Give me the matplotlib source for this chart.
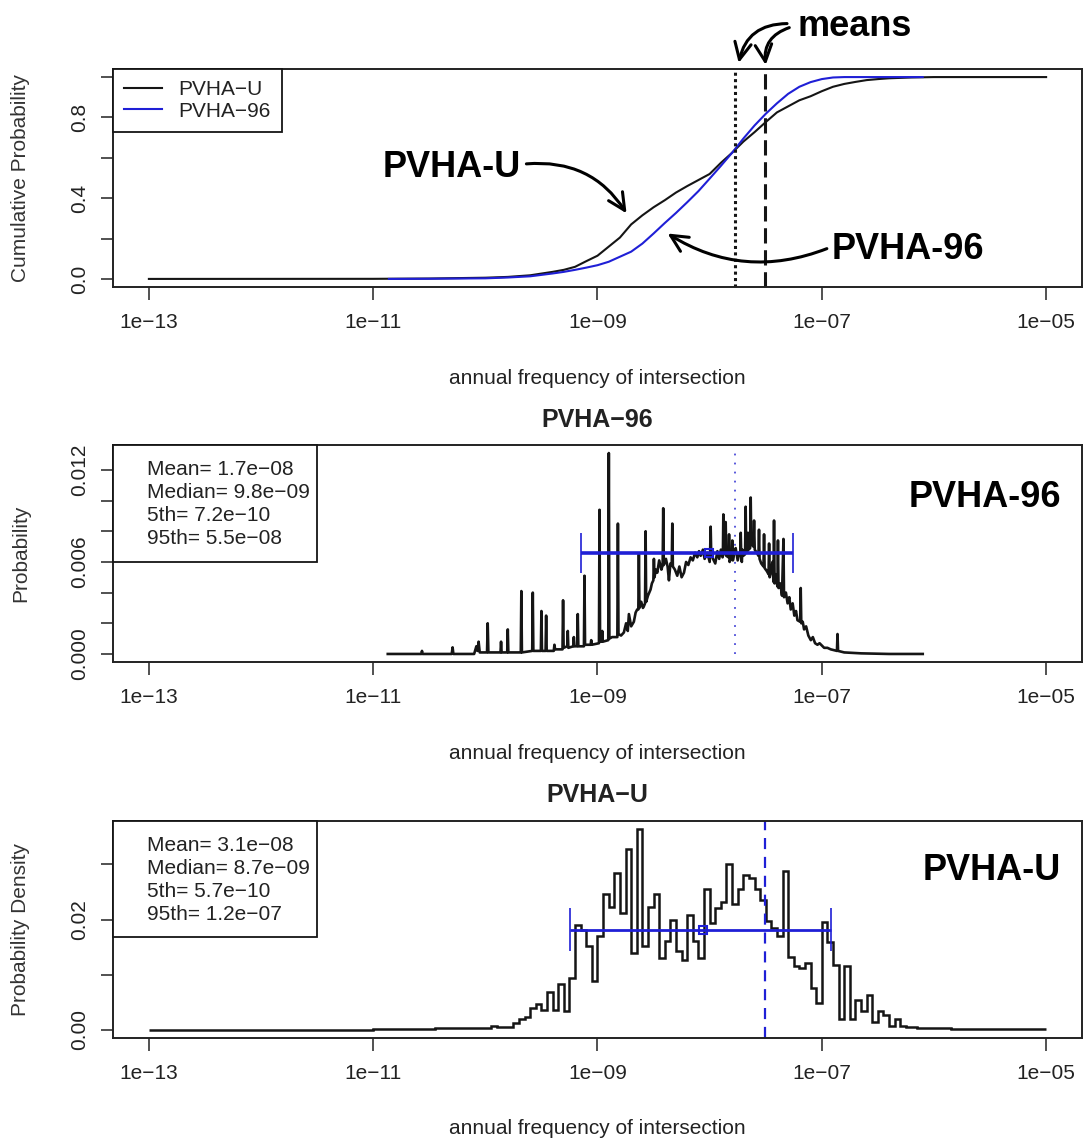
import numpy as np
import matplotlib.pyplot as plt
from matplotlib.patches import Rectangle

plt.rcParams['font.family'] = ['Liberation Sans', 'DejaVu Sans']

# ---- axis ticks -------------------------------------------------------
x_ticks = [1e-13, 1e-11, 1e-09, 1e-07, 1e-05]
x_tick_labels = ['1e\u221213', '1e\u221211', '1e\u221209', '1e\u221207', '1e\u221205']
x_label = 'annual frequency of intersection'

# ---- top panel: cumulative curves (log10 frequency, probability) -------
cdf_u_log = [-13.0, -11.0, -10.5, -10.0, -9.8, -9.6, -9.4, -9.3, -9.2, -9.1,
             -9.0, -8.9, -8.8, -8.7, -8.6, -8.5, -8.4, -8.3, -8.2, -8.1,
             -8.0, -7.9, -7.8, -7.7, -7.6, -7.5, -7.4, -7.3, -7.2, -7.1,
             -7.0, -6.9, -6.8, -6.7, -6.6, -6.5, -6.4, -6.2, -6.0, -5.0]
cdf_u = [0.0, 0.0005, 0.002, 0.006, 0.010, 0.018, 0.035, 0.045, 0.060, 0.088,
         0.115, 0.160, 0.205, 0.270, 0.315, 0.355, 0.390, 0.428, 0.460, 0.490,
         0.520, 0.575, 0.625, 0.680, 0.727, 0.777, 0.825, 0.855, 0.885, 0.905,
         0.930, 0.952, 0.966, 0.976, 0.985, 0.990, 0.994, 0.998, 1.0, 1.0]

cdf_96_log = [-10.86, -10.5, -10.0, -9.8, -9.6, -9.4, -9.3, -9.2, -9.1, -9.0,
              -8.9, -8.8, -8.7, -8.6, -8.5, -8.4, -8.3, -8.2, -8.1, -8.0,
              -7.9, -7.8, -7.7, -7.6, -7.5, -7.4, -7.3, -7.2, -7.1, -7.0,
              -6.9, -6.8, -6.1]
cdf_96 = [0.0, 0.0008, 0.003, 0.007, 0.013, 0.027, 0.035, 0.045, 0.056, 0.068,
          0.085, 0.110, 0.135, 0.175, 0.225, 0.277, 0.327, 0.380, 0.435, 0.497,
          0.560, 0.625, 0.695, 0.760, 0.818, 0.870, 0.917, 0.952, 0.975, 0.990,
          0.998, 1.0, 1.0]

# ---- middle panel: PVHA-96 probability (log10 frequency, probability) ---
pv96_log = [
    -10.87, -10.57, -10.565, -10.56, -10.30, -10.292, -10.285, -10.10, -10.08, -10.07,
    -10.06, -10.05, -9.985, -9.979, -9.973, -9.865, -9.86, -9.855, -9.805, -9.80,
    -9.795, -9.684, -9.679, -9.674, -9.582, -9.577, -9.572, -9.505, -9.50, -9.495,
    -9.463, -9.458, -9.453, -9.39, -9.384, -9.378, -9.312, -9.307, -9.302, -9.27,
    -9.265, -9.26, -9.216, -9.211, -9.206, -9.181, -9.176, -9.171, -9.121, -9.116,
    -9.111, -9.061, -9.056, -9.051, -8.987, -8.982, -8.977, -8.963, -8.958, -8.953,
    -8.904, -8.899, -8.894, -8.87, -8.823, -8.818, -8.813, -8.79, -8.765, -8.745,
    -8.73, -8.72, -8.70, -8.676, -8.66, -8.646, -8.636, -8.631, -8.626, -8.61,
    -8.595, -8.587, -8.576, -8.571, -8.566, -8.55, -8.527, -8.515, -8.502, -8.497,
    -8.492, -8.48, -8.467, -8.45, -8.43, -8.419, -8.414, -8.409, -8.39, -8.375,
    -8.363, -8.35, -8.338, -8.333, -8.328, -8.31, -8.289, -8.27, -8.25, -8.229,
    -8.21, -8.19, -8.17, -8.15, -8.13, -8.11, -8.095, -8.08, -8.06, -8.045,
    -8.02, -8.00, -7.996, -7.991, -7.986, -7.97, -7.95, -7.931, -7.915, -7.90,
    -7.885, -7.882, -7.878, -7.873, -7.862, -7.857, -7.852, -7.832, -7.827, -7.822,
    -7.803, -7.798, -7.793, -7.78, -7.768, -7.75, -7.735, -7.728, -7.723, -7.718,
    -7.713, -7.708, -7.70, -7.684, -7.679, -7.674, -7.663, -7.658, -7.653, -7.639,
    -7.634, -7.629, -7.61, -7.604, -7.598, -7.58, -7.565, -7.56, -7.555, -7.54,
    -7.52, -7.515, -7.51, -7.49, -7.475, -7.47, -7.465, -7.455, -7.44, -7.431,
    -7.426, -7.421, -7.41, -7.396, -7.391, -7.386, -7.37, -7.355, -7.342, -7.337,
    -7.32, -7.305, -7.29, -7.277, -7.26, -7.245, -7.23, -7.217, -7.193, -7.188,
    -7.183, -7.17, -7.158, -7.14, -7.12, -7.098, -7.08, -7.06, -7.039, -7.02,
    -6.979, -6.95, -6.92, -6.865, -6.86, -6.855, -6.80, -6.65, -6.40, -6.10]
pv96_prob = [
    0.0, 0.0, 0.0002, 0.0, 0.0, 0.00043, 0.0, 0.0, 0.0005, 0.0002,
    0.0008, 0.0001, 0.0001, 0.0020, 0.0001, 0.0001, 0.0008, 0.0001, 0.0001, 0.0016,
    0.0001, 0.0001, 0.0041, 0.0001, 0.0002, 0.0040, 0.0002, 0.0002, 0.0028, 0.0002,
    0.0002, 0.0025, 0.0002, 0.0002, 0.0006, 0.0003, 0.0003, 0.0035, 0.0004, 0.0005,
    0.0015, 0.0004, 0.0005, 0.0011, 0.0005, 0.0005, 0.0026, 0.0005, 0.0005, 0.0051,
    0.0006, 0.0006, 0.0009, 0.0006, 0.0007, 0.0094, 0.0008, 0.0008, 0.0015, 0.0008,
    0.0009, 0.0131, 0.0010, 0.0011, 0.0011, 0.0085, 0.0013, 0.0012, 0.0014, 0.0020,
    0.0015, 0.0026, 0.0018, 0.0021, 0.0027, 0.0029, 0.0029, 0.0065, 0.0030, 0.0034,
    0.0030, 0.0031, 0.0033, 0.0080, 0.0034, 0.0038, 0.0042, 0.0046, 0.0048, 0.0062,
    0.0050, 0.0055, 0.0053, 0.0061, 0.0055, 0.0058, 0.0095, 0.0058, 0.0062, 0.0057,
    0.0048, 0.0059, 0.0058, 0.0085, 0.0057, 0.0055, 0.0051, 0.0057, 0.0050, 0.0053,
    0.0060, 0.0058, 0.0063, 0.0061, 0.0066, 0.0063, 0.0067, 0.0064, 0.0068, 0.0062,
    0.0066, 0.0060, 0.0066, 0.0083, 0.0065, 0.0062, 0.0059, 0.0067, 0.0062, 0.0068,
    0.0063, 0.0064, 0.0091, 0.0066, 0.0065, 0.0086, 0.0064, 0.0063, 0.0078, 0.0060,
    0.0064, 0.0074, 0.0061, 0.0066, 0.0069, 0.0061, 0.0066, 0.0064, 0.0079, 0.0063,
    0.0060, 0.0068, 0.0064, 0.0065, 0.0096, 0.0066, 0.0067, 0.0079, 0.0068, 0.0069,
    0.0102, 0.0072, 0.0070, 0.0087, 0.0068, 0.0066, 0.0064, 0.0081, 0.0062, 0.0059,
    0.0057, 0.0078, 0.0056, 0.0054, 0.0052, 0.0072, 0.0050, 0.0053, 0.0060, 0.0047,
    0.0087, 0.0046, 0.0052, 0.0044, 0.0074, 0.0043, 0.0046, 0.0038, 0.0075, 0.0037,
    0.0040, 0.0033, 0.0037, 0.0029, 0.0033, 0.0025, 0.0028, 0.0022, 0.0021, 0.0043,
    0.0020, 0.0021, 0.0016, 0.0018, 0.0012, 0.0009, 0.0011, 0.0007, 0.0006, 0.0007,
    0.0004, 0.0004, 0.0003, 0.0002, 0.0013, 0.0002, 0.0001, 0.00004, 0.0, 0.0]

# ---- bottom panel: PVHA-U histogram, bins of 0.05 in log10 from 1e-13 to 1e-05
pvu_hist = [
    # -13.00 .. -11.05
    0.0, 0.0, 0.0, 0.0, 0.0, 0.0, 0.0, 0.0, 0.0, 0.0,
    0.0, 0.0, 0.0, 0.0, 0.0, 0.0, 0.0, 0.0, 0.0, 0.0,
    0.0, 0.0, 0.0, 0.0, 0.0, 0.0, 0.0, 0.0, 0.0, 0.0,
    0.0, 0.0, 0.0, 0.00005, 0.00005, 0.00005, 0.00005, 0.00005, 0.00005, 0.00005,
    # -11.00 .. -10.05
    0.0001, 0.0001, 0.0001, 0.0001, 0.0001, 0.0002, 0.0002, 0.0002, 0.0002, 0.0002,
    0.0002, 0.0003, 0.0003, 0.0003, 0.0003, 0.0004, 0.0003, 0.0004, 0.0004, 0.0003,
    # -10.00 .. -9.05
    0.0004, 0.0008, 0.0006, 0.0006, 0.0005, 0.0012, 0.0020, 0.0024, 0.0040, 0.0047,
    0.0037, 0.0069, 0.0037, 0.0083, 0.0034, 0.0095, 0.0191, 0.0182, 0.0152, 0.0088,
    # -9.00 .. -8.05
    0.0170, 0.0246, 0.0222, 0.0285, 0.0212, 0.0327, 0.0139, 0.0364, 0.0152, 0.0222,
    0.0246, 0.0130, 0.0161, 0.0200, 0.0143, 0.0127, 0.0209, 0.0161, 0.0130, 0.0256,
    # -8.00 .. -7.05
    0.0194, 0.0221, 0.0232, 0.0300, 0.0228, 0.0256, 0.0280, 0.0275, 0.0256, 0.0235,
    0.0198, 0.0184, 0.0170, 0.0288, 0.0133, 0.0115, 0.0112, 0.0121, 0.0076, 0.0049,
    # -7.00 .. -6.05
    0.0196, 0.0160, 0.0118, 0.0020, 0.0115, 0.0020, 0.0055, 0.0034, 0.0064, 0.0015,
    0.0034, 0.0027, 0.0008, 0.0020, 0.0008, 0.0006, 0.0005, 0.0004, 0.0004, 0.0003,
    # -6.00 .. -5.05
    0.0003, 0.0003, 0.0003, 0.0002, 0.0002, 0.0002, 0.0002, 0.0002, 0.0002, 0.0001,
    0.0001, 0.0001, 0.0001, 0.0001, 0.0001, 0.0001, 0.0001, 0.0001, 0.0001, 0.0001]

# ---- summary statistics ------------------------------------------------
stat_names = ['Mean', 'Median', '5th', '95th']
stats_96 = [1.7e-08, 9.8e-09, 7.2e-10, 5.5e-08]
stats_u = [3.1e-08, 8.7e-09, 5.7e-10, 1.2e-07]
bar_level_96 = 0.0066
bar_level_u = 0.0182

BLUE = '#1f1fd6'
BLACK = '#151515'
W, H = 1084, 1140

fig = plt.figure(figsize=(W / 100, H / 100), dpi=100)


def axes_at(left, top, right, bottom):
    return fig.add_axes([left / W, 1 - bottom / H, (right - left) / W, (bottom - top) / H])


def style(ax, yticks, ylabels, ylabel):
    ax.set_xscale('log')
    ax.set_xlim(10 ** -13.32, 10 ** -4.68)
    ax.set_xticks(x_ticks)
    ax.set_xticklabels(x_tick_labels)
    ax.xaxis.set_minor_locator(plt.NullLocator())
    ax.set_yticks(yticks)
    ax.set_yticklabels(ylabels)
    ax.tick_params(axis='both', length=9, width=1.1, labelsize=15, colors='#222222')
    ax.tick_params(axis='x', pad=10)
    ax.tick_params(axis='y', pad=8, labelrotation=90)
    for lab in ax.get_yticklabels():
        lab.set_va('center')
    ax.set_xlabel(x_label, fontsize=15, va='center', color='#222222')
    ax.xaxis.set_label_coords(0.5, -91 / 217)
    ax.set_ylabel(ylabel, fontsize=15, va='center', color='#333333')
    ax.yaxis.set_label_coords(-92 / 969, 0.5)
    for s in ax.spines.values():
        s.set_linewidth(1.4)
        s.set_color('#222222')


def stats_box(ax, stats, box_bottom, text_ys):
    ax.add_patch(Rectangle((0, box_bottom), 204 / 969, 1 - box_bottom, transform=ax.transAxes,
                           facecolor='white', edgecolor=BLACK, lw=1.3, zorder=6, clip_on=False))
    for name, val, ty in zip(stat_names, stats, text_ys):
        txt = f'{name}= {val:.1e}'.replace('-', '\u2212')
        ax.text(34 / 969, ty, txt, transform=ax.transAxes, fontsize=15, va='center',
                ha='left', color='#222222', zorder=7)


def summary_bar(ax, stats, level, cap, lw):
    mean, median, p5, p95 = stats
    ax.hlines(level, p5, p95, color=BLUE, lw=lw, zorder=4)
    ax.vlines([p5, p95], level - cap, level + cap, color=BLUE, lw=1.2, zorder=4)
    ax.plot([median], [level], marker='s', ms=6, mfc='none', mec=BLUE, mew=1.5, zorder=5)


# ---------------- top panel ----------------
ax1 = axes_at(113, 69, 1082, 287)
ax1.plot(10 ** np.array(cdf_u_log), cdf_u, color=BLACK, lw=1.5, label='PVHA\u2212U')
ax1.plot(10 ** np.array(cdf_96_log), cdf_96, color=BLUE, lw=1.5, label='PVHA\u221296')
ax1.axvline(stats_96[0], color=BLACK, lw=2.2, ls=(0, (1, 1.1)))
ax1.axvline(stats_u[0], color=BLACK, lw=2.2, ls=(0, (5, 2.2)))
ax1.set_ylim(-0.04, 1.04)
style(ax1, [0, 0.2, 0.4, 0.6, 0.8, 1.0], ['0.0', '', '0.4', '', '0.8', ''], 'Cumulative Probability')
leg = ax1.legend(loc='upper left', bbox_to_anchor=(0, 1), borderaxespad=0, fancybox=False,
                 edgecolor=BLACK, framealpha=1, fontsize=15, handlelength=1.8,
                 handletextpad=0.8, borderpad=0.55, labelspacing=0.1)
leg.get_frame().set_linewidth(1.3)
for t in leg.get_texts():
    t.set_color('#222222')

# hand annotations on the top panel
big = dict(fontsize=26, fontweight='bold', color='black', ha='center', va='center')
ax1.text(10 ** -10.30, 0.55, 'PVHA-U', **big)
ax1.text(10 ** -6.23, 0.145, 'PVHA-96', **big)
ax1.text(10 ** -6.71, 1.25, 'means', clip_on=False, **big)
arrow = dict(arrowstyle='->,head_length=0.45,head_width=0.22', lw=2.2, color='black',
             mutation_scale=27, shrinkA=0, shrinkB=0)
arrows = [((-9.634, 0.57), (-8.741, 0.325), -0.3),
          ((-6.955, 0.15), (-8.375, 0.225), -0.25),
          ((-7.31, 1.265), (-7.741, 1.07), 0.4),
          ((-7.29, 1.245), (-7.50, 1.06), 0.4)]
for (tl, tv), (hl, hv), rad in arrows:
    ax1.annotate('', xy=(10 ** hl, hv), xytext=(10 ** tl, tv), annotation_clip=False,
                 arrowprops=dict(connectionstyle=f'arc3,rad={rad}', **arrow))

# ---------------- middle panel ----------------
ax2 = axes_at(113, 445, 1082, 662)
ax2.plot(10 ** np.array(pv96_log), pv96_prob, color=BLACK, lw=1.9)
pmax = max(pv96_prob)
ax2.vlines(stats_96[0], 0, pmax, color='#4a4ad8', lw=1.3, ls=(0, (1, 4)))
summary_bar(ax2, stats_96, bar_level_96, 0.1 * pmax, 2.6)
ax2.set_ylim(-0.04 * pmax, 1.04 * pmax)
style(ax2, [0, 0.002, 0.004, 0.006, 0.008, 0.010, 0.012],
      ['0.000', '', '', '0.006', '', '', '0.012'], 'Probability')
ax2.text(0.5, 1 + 25 / 217, 'PVHA\u221296', transform=ax2.transAxes, fontsize=18,
         fontweight='bold', ha='center', va='center', color='#222222')
stats_box(ax2, stats_96, 0.461, [0.889, 0.779, 0.677, 0.571])
ax2.text(0.90, 0.76, 'PVHA-96', transform=ax2.transAxes, **big)

# ---------------- bottom panel ----------------
ax3 = axes_at(113, 821, 1082, 1038)
edges = np.linspace(-13, -5, len(pvu_hist) + 1)
ax3.stairs(pvu_hist, 10 ** edges, baseline=None, color=BLACK, lw=1.8)
hmax = max(pvu_hist)
ax3.axvline(stats_u[0], color=BLUE, lw=1.6, ls=(0, (5, 3.5)))
summary_bar(ax3, stats_u, bar_level_u, 0.105 * hmax, 2.0)
ax3.set_ylim(-0.04 * hmax, 1.04 * hmax)
style(ax3, [0, 0.01, 0.02, 0.03], ['0.00', '', '0.02', ''], 'Probability Density')
ax3.text(0.5, 1 + 26 / 217, 'PVHA\u2212U', transform=ax3.transAxes, fontsize=18,
         fontweight='bold', ha='center', va='center', color='#222222')
stats_box(ax3, stats_u, 0.465, [0.885, 0.783, 0.673, 0.567])
ax3.text(0.907, 0.774, 'PVHA-U', transform=ax3.transAxes, **big)

fig.savefig('out.png', dpi=100)
